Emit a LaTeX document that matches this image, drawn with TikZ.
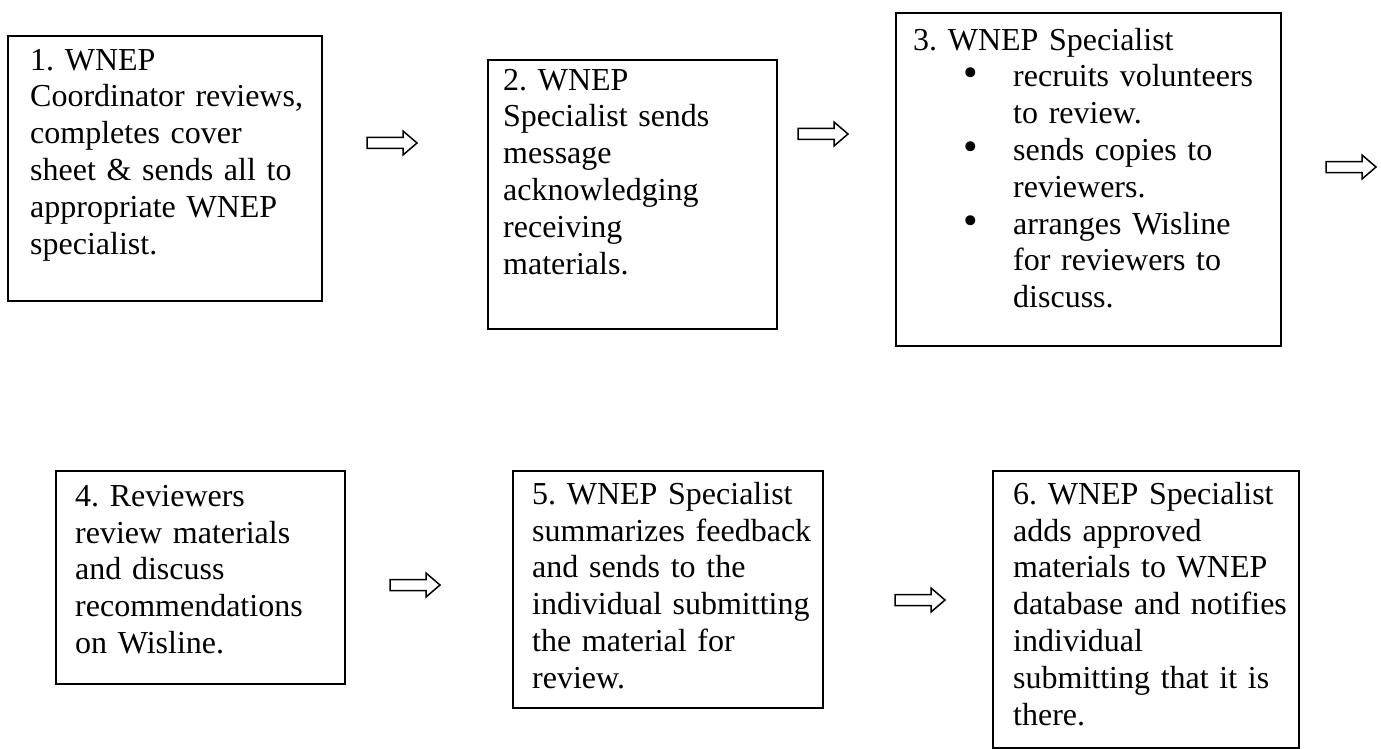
\documentclass[tikz,border=0pt]{standalone}
\usepackage{fontspec}
\setmainfont{Liberation Serif}
\frenchspacing
\newcommand{\firstln}{\rule{0pt}{28pt}}
\newcommand{\bul}[1]{\hspace*{50pt}\makebox[50pt][l]{\smash{\scalebox{1.3}{•}}}#1}
\newcommand{\cont}[1]{\hspace*{100pt}#1}
\newcommand{\blockarrow}[1]{\draw[arrowline, shift={(#1)}] (-25,-5.5) -- (11,-5.5) -- (11,-12) -- (25,0) -- (11,12) -- (11,5.5) -- (-25,5.5) -- cycle;}
\begin{document}
\begin{tikzpicture}[x=1pt,y=-1pt,
  box/.style={draw, line width=1.6pt, inner sep=0pt, anchor=north west},
  txt/.style={anchor=north west, inner sep=0pt, text width=420pt, align=left,
    font=\fontsize{32}{36.8}\selectfont},
  arrowline/.style={draw, line width=1.5pt, line join=miter}]
\useasboundingbox (0,0) rectangle (1381,749);
% boxes
\node[box, minimum width=314pt, minimum height=265pt] (b1) at (7,35) {};
\node[box, minimum width=289pt, minimum height=269pt] (b2) at (487,59) {};
\node[box, minimum width=385pt, minimum height=333pt] (b3) at (895,12) {};
\node[box, minimum width=289pt, minimum height=213pt] (b4) at (55,470) {};
\node[box, minimum width=310pt, minimum height=237pt] (b5) at (512,470) {};
\node[box, minimum width=306pt, minimum height=277pt] (b6) at (992,470) {};
% texts
\node[txt] (t1) at (30,42) {\firstln 1. WNEP\\Coordinator reviews,\\completes cover\\sheet \& sends all to\\appropriate WNEP\\specialist.};
\node[txt] (t2) at (503,62) {\firstln 2. WNEP\\Specialist sends\\message\\acknowledging\\receiving\\materials.};
\node[txt] (t3) at (913,22) {\firstln 3. WNEP Specialist\\\bul{recruits volunteers}\\\cont{to review.}\\\bul{sends copies to}\\\cont{reviewers.}\\\bul{arranges Wisline}\\\cont{for reviewers to}\\\cont{discuss.}};
\node[txt] (t4) at (75,478) {\firstln 4. Reviewers\\review materials\\and discuss\\recommendations\\on Wisline.};
\node[txt] (t5) at (532,476) {\firstln 5. WNEP Specialist\\summarizes feedback\\and sends to the\\individual submitting\\the material for\\review.};
\node[txt] (t6) at (1013,476) {\firstln 6. WNEP Specialist\\adds approved\\materials to WNEP\\database and notifies\\individual\\submitting that it is\\there.};
% arrows
\coordinate (a1) at (392,143);
\coordinate (a2) at (823,134);
\coordinate (a3) at (1351,167);
\coordinate (a4) at (415,585);
\coordinate (a5) at (920,600);
\blockarrow{a1}
\blockarrow{a2}
\blockarrow{a3}
\blockarrow{a4}
\blockarrow{a5}
\end{tikzpicture}
\end{document}
